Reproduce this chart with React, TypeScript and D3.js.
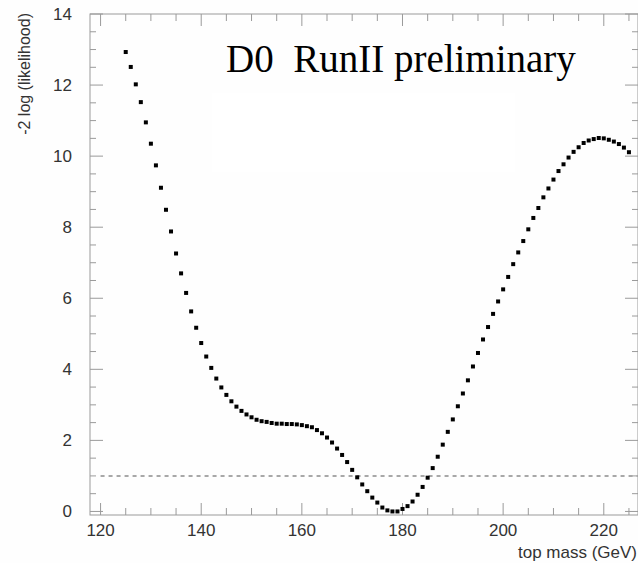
import React from "react";
import * as d3 from "d3";

const width = 638;
const height = 563;

// top mass (GeV) scan points and -2 log(likelihood)
const masses = [
  125, 126, 127, 128, 129, 130, 131, 132, 133, 134, 135, 136, 137, 138, 139,
  140, 141, 142, 143, 144, 145, 146, 147, 148, 149, 150, 151, 152, 153, 154,
  155, 156, 157, 158, 159, 160, 161, 162, 163, 164, 165, 166, 167, 168, 169,
  170, 171, 172, 173, 174, 175, 176, 177, 178, 179, 180, 181, 182, 183, 184,
  185, 186, 187, 188, 189, 190, 191, 192, 193, 194, 195, 196, 197, 198, 199,
  200, 201, 202, 203, 204, 205, 206, 207, 208, 209, 210, 211, 212, 213, 214,
  215, 216, 217, 218, 219, 220, 221, 222, 223, 224, 225
];
const likelihood = [
  12.93, 12.51, 12.02, 11.52, 10.95, 10.35, 9.74, 9.11, 8.49, 7.88, 7.26, 6.7,
  6.15, 5.63, 5.17, 4.74, 4.36, 4.04, 3.74, 3.49, 3.28, 3.1, 2.95, 2.83, 2.73,
  2.65, 2.58, 2.54, 2.52, 2.49, 2.47, 2.47, 2.46, 2.46, 2.45, 2.43, 2.4, 2.37,
  2.29, 2.2, 2.08, 1.94, 1.77, 1.59, 1.39, 1.17, 0.96, 0.76, 0.57, 0.39, 0.25,
  0.11, 0.03, 0.0, 0.0, 0.07, 0.15, 0.28, 0.47, 0.69, 0.95, 1.22, 1.54, 1.88,
  2.24, 2.59, 2.96, 3.32, 3.69, 4.08, 4.46, 4.84, 5.19, 5.56, 5.91, 6.25, 6.6,
  6.96, 7.29, 7.61, 7.94, 8.26, 8.54, 8.84, 9.09, 9.34, 9.58, 9.77, 9.96,
  10.12, 10.25, 10.37, 10.44, 10.48, 10.51, 10.5, 10.46, 10.41, 10.34, 10.24,
  10.11
];

const xMajor = [120, 140, 160, 180, 200, 220];
const xMinor = [120, 125, 130, 135, 140, 145, 150, 155, 160, 165, 170, 175, 180, 185, 190, 195, 200, 205, 210, 215, 220, 225];
const yMajor = [0, 2, 4, 6, 8, 10, 12, 14];
const yMinor = d3.range(0, 14.01, 0.5);
const oneSigma = 1;

const title = "D0  RunII preliminary";
const xTitle = "top mass (GeV)";
const yTitle = "-2 log (likelihood)";

const x = d3.scaleLinear().domain([117.9, 226.8]).range([90, 638]);
const y = d3.scaleLinear().domain([-0.1, 14]).range([515, 14]);

const axisColor = "#9a9a9a";
const sans = "'Liberation Sans', Arial, sans-serif";

export default function App() {
  const [x0, x1] = x.range();
  const [y0, y1] = y.range();
  return (
    <svg
      width={width}
      height={height}
      style={{ position: "absolute", left: 0, top: 0, background: "#fefefe" }}
    >
      <rect x={212} y={93} width={303} height={79} fill="#ffffff" />

      {/* frame */}
      <rect x={x0} y={y1} width={x1 - x0} height={y0 - y1} fill="none" stroke={axisColor} strokeWidth={1} />

      {/* x ticks bottom + top */}
      {xMinor.map(v => {
        const len = xMajor.includes(v) ? 12 : 7;
        return (
          <g key={"xm" + v} stroke={axisColor}>
            <line x1={x(v)} x2={x(v)} y1={y0} y2={y0 - len} />
            <line x1={x(v)} x2={x(v)} y1={y1} y2={y1 + len} />
          </g>
        );
      })}
      {/* y ticks left + right */}
      {yMinor.map(v => {
        const len = yMajor.includes(v) ? 13 : 6;
        return (
          <g key={"ym" + v} stroke={axisColor}>
            <line x1={x0} x2={x0 + len} y1={y(v)} y2={y(v)} />
            <line x1={x1} x2={x1 - len} y1={y(v)} y2={y(v)} />
          </g>
        );
      })}

      {xMajor.map(v => (
        <text key={"xl" + v} x={x(v)} y={536} textAnchor="middle" fontFamily={sans} fontSize={17} fill="#333">
          {v}
        </text>
      ))}
      {yMajor.map(v => (
        <text key={"yl" + v} x={72} y={y(v) + 6} textAnchor="end" fontFamily={sans} fontSize={17} fill="#333">
          {v}
        </text>
      ))}

      <text x={637} y={558} textAnchor="end" fontFamily={sans} fontSize={17} fill="#333">
        {xTitle}
      </text>
      <text
        transform="translate(30,13) rotate(-90)"
        textAnchor="end"
        fontFamily={sans}
        fontSize={16}
        fill="#333"
      >
        {yTitle}
      </text>

      {/* 1 sigma line */}
      <line
        x1={x(120)}
        x2={x1}
        y1={y(oneSigma)}
        y2={y(oneSigma)}
        stroke="#a8a8a8"
        strokeWidth={2}
        strokeDasharray="4 4"
      />

      {masses.map((m, i) => (
        <rect key={m} x={x(m) - 2} y={y(likelihood[i]) - 2} width={4} height={4} fill="#000" />
      ))}

      <text
        x={226}
        y={72}
        fontFamily="'Liberation Serif', 'Times New Roman', serif"
        fontSize={39}
        fill="#000"
        style={{ whiteSpace: "pre" }}
      >
        {title}
      </text>
    </svg>
  );
}
